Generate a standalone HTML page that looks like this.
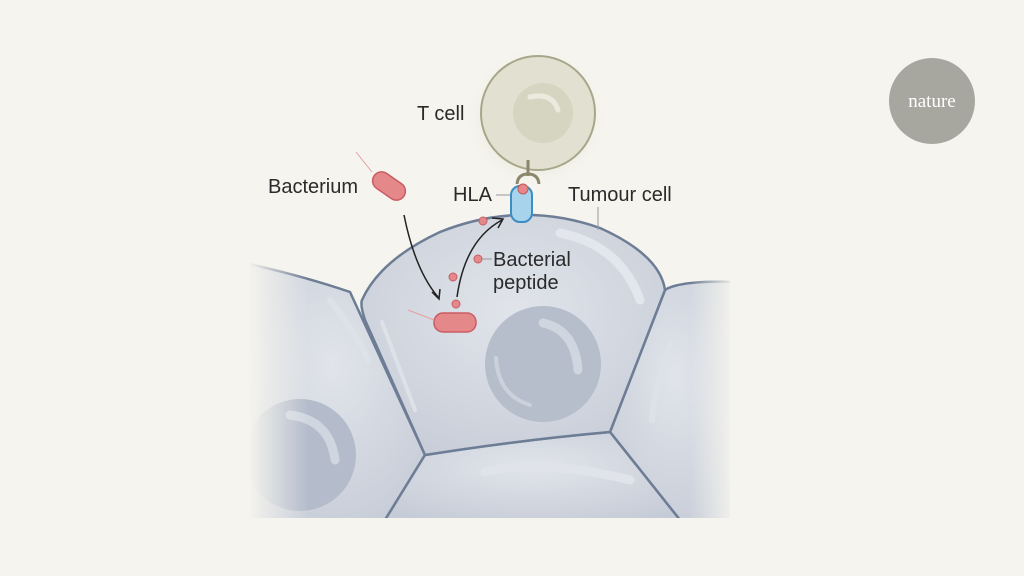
<!DOCTYPE html>
<html><head><style>
html,body{margin:0;padding:0;background:#f5f4ee;}
svg{display:block}
text{font-family:"Liberation Sans",sans-serif;fill:#2a2a2a;font-size:20px}
</style></head><body>
<svg width="1024" height="576" viewBox="0 0 1024 576" xmlns="http://www.w3.org/2000/svg">
<defs>
<linearGradient id="fadeL" x1="0" x2="1"><stop offset="0" stop-color="#f5f4ee" stop-opacity="1"/><stop offset="1" stop-color="#f5f4ee" stop-opacity="0"/></linearGradient>
<linearGradient id="fadeR" x1="1" x2="0"><stop offset="0" stop-color="#f5f4ee" stop-opacity="1"/><stop offset="1" stop-color="#f5f4ee" stop-opacity="0"/></linearGradient>
<radialGradient id="cellg" cx="0.5" cy="0.4" r="0.7"><stop offset="0" stop-color="#e1e4ea"/><stop offset="1" stop-color="#c6ccd7"/></radialGradient>
<radialGradient id="glow" cx="0.5" cy="0.5" r="0.5"><stop offset="0.6" stop-color="#e9e9dc"/><stop offset="1" stop-color="#f5f4ee" stop-opacity="0"/></radialGradient>
<clipPath id="clip"><rect x="250" y="0" width="480" height="518"/></clipPath>
</defs>
<g clip-path="url(#clip)">
<path d="M240 262 Q300 275 350 292 L425 455 L385 520 L240 520 Z" fill="url(#cellg)" stroke="#6d7d95" stroke-width="2.5"/>
<circle cx="300" cy="455" r="56" fill="#b4bccb"/>
<path d="M290 415 Q330 420 335 460" stroke="#d0d6e0" stroke-width="9" fill="none" stroke-linecap="round"/>
<path d="M330 300 Q360 340 368 360" stroke="#dde1e8" stroke-width="6" fill="none" stroke-linecap="round"/>
<path d="M665 290 Q680 280 740 282 L740 520 L680 520 L610 432 Z" fill="url(#cellg)" stroke="#6d7d95" stroke-width="2.5"/>
<path d="M670 345 Q655 380 652 420" stroke="#dde1e8" stroke-width="6" fill="none" stroke-linecap="round"/>
<path d="M425 455 Q520 440 610 432 L680 520 L385 520 Z" fill="url(#cellg)" stroke="#6d7d95" stroke-width="2.5"/>
<path d="M485 472 Q540 458 630 480" stroke="#e0e3ea" stroke-width="9" fill="none" stroke-linecap="round"/>
<path d="M362 300 Q380 260 440 232 Q520 200 600 228 Q660 255 665 290 L610 432 Q520 440 425 455 L365 320 Q360 305 362 300 Z" fill="url(#cellg)" stroke="#6d7d95" stroke-width="2.5"/>
<circle cx="543" cy="364" r="58" fill="#b6bdcb"/>
<path d="M543 323 Q575 330 578 370" stroke="#d0d6e0" stroke-width="9" fill="none" stroke-linecap="round"/>
<path d="M496 358 Q498 395 530 405" stroke="#ccd2dc" stroke-width="4" fill="none" stroke-linecap="round"/>
<path d="M560 233 Q620 245 640 300" stroke="#e3e6ec" stroke-width="9" fill="none" stroke-linecap="round"/>
<path d="M382 322 L415 410" stroke="#dde1e8" stroke-width="4" fill="none" stroke-linecap="round"/>
</g>
<rect x="248" y="250" width="60" height="280" fill="url(#fadeL)"/>
<rect x="690" y="270" width="45" height="260" fill="url(#fadeR)"/>
<circle cx="536" cy="118" r="72" fill="url(#glow)"/>
<circle cx="538" cy="113" r="57" fill="#e2e1d1" stroke="#a8a68a" stroke-width="2"/>
<circle cx="543" cy="113" r="30" fill="#d6d5c2"/>
<path d="M530 97 Q552 92 558 110" stroke="#eceadf" stroke-width="5" fill="none" stroke-linecap="round"/>
<line x1="528" y1="160" x2="528" y2="176" stroke="#8a876a" stroke-width="3"/>
<path d="M517 184 Q518 174 528 174 Q538 174 539 184" stroke="#8a876a" stroke-width="3" fill="none"/>
<rect x="511" y="186" width="21" height="36" rx="9" fill="#a8d3ec" stroke="#3c8ec2" stroke-width="2"/>
<circle cx="523" cy="189" r="5" fill="#e8878a" stroke="#c25a5e"/>
<line x1="496" y1="195" x2="510" y2="195" stroke="#999" stroke-width="1"/>
<line x1="598" y1="207" x2="598" y2="230" stroke="#999" stroke-width="1"/>
<g transform="translate(389,186) rotate(35)"><rect x="-18" y="-9" width="36" height="18" rx="9" fill="#e4888a" stroke="#c95d63" stroke-width="1.5"/></g>
<line x1="356" y1="152" x2="372" y2="172" stroke="#e4a0a0" stroke-width="1"/>
<rect x="434" y="313" width="42" height="19" rx="9" fill="#e4888a" stroke="#c95d63" stroke-width="1.5"/>
<line x1="408" y1="310" x2="434" y2="320" stroke="#e4a0a0" stroke-width="1"/>
<g fill="#e4888a" stroke="#c95d63" stroke-width="1"><circle cx="483" cy="221" r="4"/><circle cx="478" cy="259" r="4"/><circle cx="453" cy="277" r="4"/><circle cx="456" cy="304" r="4"/></g>
<line x1="482" y1="259" x2="492" y2="259" stroke="#999" stroke-width="1"/>
<path d="M404 215 Q415 270 438 297" stroke="#222" stroke-width="1.5" fill="none"/>
<path d="M432 292 L439 299 L440 289" stroke="#222" stroke-width="1.5" fill="none"/>
<path d="M457 297 Q465 240 502 220" stroke="#222" stroke-width="1.5" fill="none"/>
<path d="M492 218 L503 219 L498 228" stroke="#222" stroke-width="1.5" fill="none"/>
<text x="417" y="120">T cell</text>
<text x="268" y="193">Bacterium</text>
<text x="453" y="201">HLA</text>
<text x="568" y="201">Tumour cell</text>
<text x="493" y="266">Bacterial</text>
<text x="493" y="289">peptide</text>
<circle cx="932" cy="101" r="43" fill="#a8a79f"/>
<text x="932" y="107" text-anchor="middle" style="font-family:'Liberation Serif',serif;font-size:19px;fill:#fff">nature</text>
</svg>
</body></html>
